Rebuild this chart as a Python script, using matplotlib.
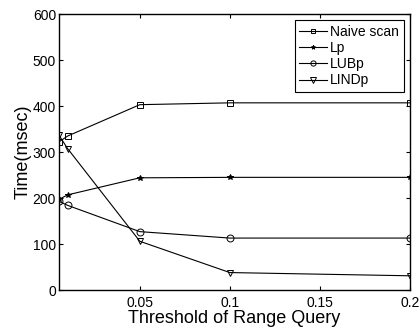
import matplotlib
matplotlib.use('Agg')
import matplotlib.pyplot as plt

plt.rcParams['font.family'] = ['Liberation Sans', 'DejaVu Sans']

thresholds = [0.005, 0.01, 0.05, 0.1, 0.2]
naive_scan = [322, 335, 403, 407, 407]
lp = [197, 207, 244, 245, 245]
lubp = [193, 184, 127, 113, 113]
lindp = [337, 307, 106, 38, 31]

fig = plt.figure(figsize=(4.2, 3.27), dpi=100)
ax = fig.add_axes([0.140, 0.113, 0.836, 0.844])

ax.plot(thresholds, naive_scan, 'k-', marker='s', mfc='none', ms=4, lw=0.8, mew=0.7, label='Naive scan')
ax.plot(thresholds, lp, 'k-', marker='*', ms=4, lw=0.8, mew=0.7, label='Lp')
ax.plot(thresholds, lubp, 'k-', marker='o', mfc='none', ms=5, lw=0.8, mew=0.7, label='LUBp')
ax.plot(thresholds, lindp, 'k-', marker='v', mfc='none', ms=5, lw=0.8, mew=0.7, label='LINDp')

ax.set_xlim(0.005, 0.2)
ax.set_ylim(0, 600)
ax.set_xticks([0.05, 0.1, 0.15, 0.2])
ax.set_xticklabels(['0.05', '0.1', '0.15', '0.2'])
ax.set_yticks([0, 100, 200, 300, 400, 500, 600])
ax.tick_params(direction='in', top=True, right=True, labelsize=10, length=3, pad=2)
ax.tick_params(axis='x', pad=4)
for s in ax.spines.values():
    s.set_linewidth(1.0)

ax.set_xlabel('Threshold of Range Query', fontsize=13, labelpad=0)
ax.set_ylabel('Time(msec)', fontsize=13, labelpad=1)

leg = ax.legend(loc='upper right', fontsize=10, fancybox=False, framealpha=1,
                edgecolor='black', handlelength=2.0, handletextpad=0.2,
                borderpad=0.35, labelspacing=0.15, borderaxespad=0.45,
                markerscale=0.75)
leg.get_frame().set_linewidth(0.8)

fig.savefig('out.png', dpi=100)
